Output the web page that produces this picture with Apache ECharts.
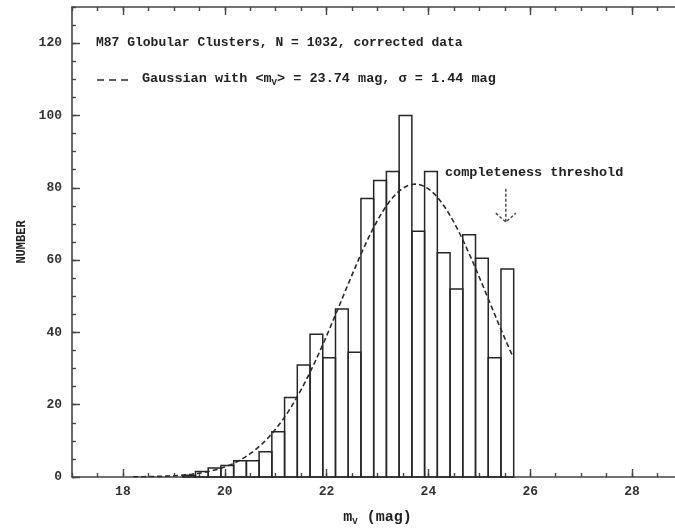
<!DOCTYPE html>
<html>
<head>
<meta charset="utf-8">
<title>M87 Globular Clusters luminosity function</title>
<script src="https://cdn.jsdelivr.net/npm/echarts@6/dist/echarts.min.js"></script>
<style>
  html, body { margin: 0; padding: 0; background: #fff; }
  #chart { width: 675px; height: 528px; }
</style>
</head>
<body>
<div id="chart"></div>
<script>
// Histogram of V magnitudes (bin centres, counts per 0.25 mag bin)
const binCenters = [19.30, 19.55, 19.80, 20.05, 20.30, 20.55, 20.80, 21.05,
                    21.30, 21.55, 21.80, 22.05, 22.30, 22.55, 22.80, 23.05,
                    23.30, 23.55, 23.80, 24.05, 24.30, 24.55, 24.80, 25.05,
                    25.30, 25.55];
const binCounts  = [0.5, 1.5, 2.5, 3.2, 4.5, 4.5, 7, 12.5,
                    22, 31, 39.5, 33, 46.5, 34.5, 77, 82,
                    84.5, 100, 68, 84.5, 62, 52, 67, 60.5,
                    33, 57.5];
const BIN_WIDTH = 0.25;

// Fitted Gaussian luminosity function
const GAUSS_MEAN = 23.74;
const GAUSS_SIGMA = 1.44;
const GAUSS_PEAK = 81;
const GAUSS_FROM = 18.2;
const GAUSS_TO = 25.65;

// Completeness threshold arrow: [magnitude, top count, tip count]
const thresholdArrow = [[25.52, 79.7, 70.5]];

// Axis ticks and labels
const xMajorTicks = [18, 20, 22, 24, 26, 28];
const yMajorTicks = [0, 20, 40, 60, 80, 100, 120];

const gaussCurve = [];
for (let m = GAUSS_FROM; m <= GAUSS_TO + 1e-9; m += 0.05) {
  const z = (m - GAUSS_MEAN) / GAUSS_SIGMA;
  gaussCurve.push([+m.toFixed(2), GAUSS_PEAK * Math.exp(-0.5 * z * z)]);
}

const FONT = '"Liberation Mono", "DejaVu Sans Mono", monospace';
const INK = '#222';
const AXIS = '#444';

const chart = echarts.init(document.getElementById('chart'), null, { renderer: 'canvas' });

const xBase = { type: 'value', min: 17, max: 29, splitLine: { show: false }, gridIndex: 0 };
const yBase = { type: 'value', min: 0, max: 130, splitLine: { show: false }, gridIndex: 0 };
const axLine = { show: true, lineStyle: { color: AXIS, width: 1.6 } };
const tickStyle = { color: AXIS, width: 1.4 };

chart.setOption({
  animation: false,
  backgroundColor: '#fff',
  // the frame's right edge (m = 29) lies just past the canvas
  grid: { left: 72, top: 7, width: 611, height: 470, containLabel: false, outerBoundsMode: 'none' },
  xAxis: [
    {
      ...xBase, position: 'bottom',
      axisLine: axLine,
      axisTick: { show: true, inside: true, length: 8, customValues: xMajorTicks, lineStyle: tickStyle },
      axisLabel: {
        show: true, customValues: xMajorTicks, margin: 8,
        fontFamily: FONT, fontSize: 13, fontWeight: 'bold', color: '#333'
      },
      name: 'm{s|V} (mag)',
      nameLocation: 'middle',
      nameGap: 31,
      nameTextStyle: {
        fontFamily: FONT, fontSize: 15, fontWeight: 'bold', color: INK,
        rich: { s: { fontFamily: FONT, fontSize: 9, fontWeight: 'bold', color: INK, padding: [9, 0, 0, 0] } }
      }
    },
    {
      ...xBase, position: 'bottom', interval: 0.5,
      axisLine: { show: false },
      axisTick: { show: true, inside: true, length: 4, lineStyle: tickStyle },
      axisLabel: { show: false }
    },
    {
      ...xBase, position: 'top',
      axisLine: axLine,
      axisTick: { show: true, inside: true, length: 8, customValues: xMajorTicks, lineStyle: tickStyle },
      axisLabel: { show: false }
    },
    {
      ...xBase, position: 'top', interval: 0.5,
      axisLine: { show: false },
      axisTick: { show: true, inside: true, length: 4, lineStyle: tickStyle },
      axisLabel: { show: false }
    }
  ],
  yAxis: [
    {
      ...yBase, position: 'left',
      axisLine: axLine,
      axisTick: { show: true, inside: true, length: 8, customValues: yMajorTicks, lineStyle: tickStyle },
      axisLabel: {
        show: true, customValues: yMajorTicks, margin: 10,
        fontFamily: FONT, fontSize: 13, fontWeight: 'bold', color: '#333'
      },
      name: 'NUMBER',
      nameLocation: 'middle',
      nameRotate: 90,
      nameGap: 44,
      nameTextStyle: { fontFamily: FONT, fontSize: 12, fontWeight: 'bold', color: INK }
    },
    {
      ...yBase, position: 'left', interval: 5,
      axisLine: { show: false },
      axisTick: { show: true, inside: true, length: 4, lineStyle: tickStyle },
      axisLabel: { show: false }
    }
  ],
  series: [
    {
      name: 'histogram',
      type: 'custom',
      xAxisIndex: 0, yAxisIndex: 0,
      data: binCenters.map((c, i) => [c, binCounts[i]]),
      renderItem(params, api) {
        const c = api.value(0), v = api.value(1);
        const tl = api.coord([c - BIN_WIDTH / 2, v]);
        const br = api.coord([c + BIN_WIDTH / 2, 0]);
        return {
          type: 'rect',
          shape: { x: tl[0], y: tl[1], width: br[0] - tl[0], height: br[1] - tl[1] },
          style: { fill: 'none', stroke: '#262626', lineWidth: 1.5 }
        };
      },
      z: 2
    },
    {
      name: 'gaussian',
      type: 'line',
      xAxisIndex: 0, yAxisIndex: 0,
      data: gaussCurve,
      showSymbol: false,
      smooth: false,
      lineStyle: { color: '#2a2a2a', width: 1.6, type: [5, 3] },
      z: 3
    },
    {
      name: 'threshold',
      type: 'custom',
      xAxisIndex: 0, yAxisIndex: 0,
      data: thresholdArrow,
      renderItem(params, api) {
        const m = api.value(0);
        const top = api.coord([m, api.value(1)]);
        const tip = api.coord([m, api.value(2)]);
        const dash = { stroke: '#444', lineWidth: 1.4, lineDash: [3, 2], fill: 'none' };
        return {
          type: 'group',
          children: [
            { type: 'line', shape: { x1: top[0], y1: top[1], x2: tip[0], y2: tip[1] }, style: dash },
            { type: 'polyline', shape: { points: [[tip[0] - 10, tip[1] - 9], [tip[0], tip[1]], [tip[0] + 10, tip[1] - 9]] }, style: dash }
          ]
        };
      },
      z: 3
    }
  ],
  graphic: [
    {
      type: 'text', left: 96, top: 36,
      style: { text: 'M87 Globular Clusters, N = 1032, corrected data', font: 'bold 13px ' + FONT, fill: INK }
    },
    {
      type: 'line',
      shape: { x1: 97, y1: 80, x2: 132, y2: 80 },
      style: { stroke: '#2a2a2a', lineWidth: 1.5, lineDash: [7, 5] }
    },
    {
      type: 'text', left: 142, top: 72,
      style: {
        text: 'Gaussian with <m{s|V}> = 23.74 mag, σ = 1.44 mag',
        font: 'bold 13.5px ' + FONT, fill: INK,
        rich: { s: { font: 'bold 9px ' + FONT, fill: INK, padding: [8, 0, 0, 0] } }
      }
    },
    {
      type: 'text', left: 445, top: 166,
      style: { text: 'completeness threshold', font: 'bold 13.5px ' + FONT, fill: INK }
    }
  ]
});
</script>
</body>
</html>
